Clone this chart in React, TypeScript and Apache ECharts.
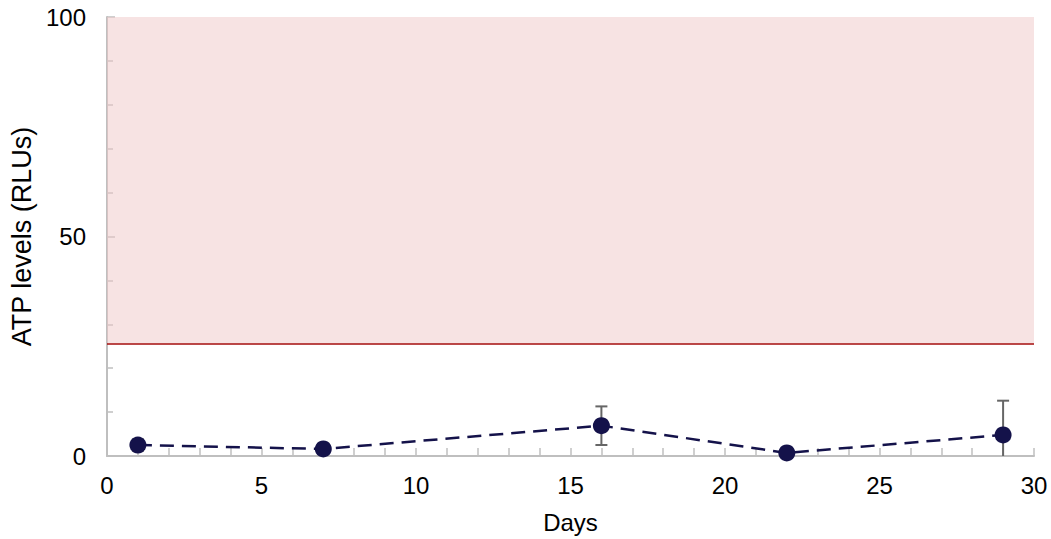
import React, { useEffect, useRef } from "react";
import * as echarts from "echarts";

const days = [1, 7, 16, 22, 29];
const atpMeans = [2.5, 1.6, 6.9, 0.7, 4.8];
const atpErrors = [1.3, 0.5, 4.4, 1.0, 7.8];
const threshold = 25.6;
const yMax = 100;

export default function App() {
  const ref = useRef<HTMLDivElement>(null);
  useEffect(() => {
    if (!ref.current) return;
    const chart = echarts.init(ref.current, null, { renderer: "svg" });
    const pts = days.map((d, i) => [d, atpMeans[i]]);
    const errs = days.map((d, i) => [d, atpMeans[i] - atpErrors[i], atpMeans[i] + atpErrors[i]]);
    const font = "Arial";
    chart.setOption({
      animation: false,
      grid: { left: 107, right: 17, top: 17, bottom: 83, containLabel: false },
      xAxis: {
        type: "value",
        min: 0,
        max: 30,
        interval: 5,
        name: "Days",
        nameLocation: "middle",
        nameGap: 54,
        nameTextStyle: { fontSize: 24, color: "#000", fontFamily: font },
        axisLine: { lineStyle: { color: "#BFBFBF", width: 2 } },
        axisTick: { show: true, inside: true, length: 8, lineStyle: { color: "#BFBFBF", width: 1.5 } },
        minorTick: { show: true, splitNumber: 5, length: 8, lineStyle: { color: "#BFBFBF", width: 1.5 } },
        axisLabel: { fontSize: 24, color: "#000", fontFamily: font, margin: 17 },
        splitLine: { show: false },
      },
      yAxis: {
        type: "value",
        min: 0,
        max: yMax,
        interval: 50,
        name: "ATP levels (RLUs)",
        nameLocation: "middle",
        nameGap: 70,
        nameTextStyle: { fontSize: 27, color: "#000", fontFamily: font },
        axisLine: { show: true, lineStyle: { color: "#BFBFBF", width: 2 } },
        axisTick: { show: true, inside: true, length: 8, lineStyle: { color: "#BFBFBF", width: 1.5 } },
        minorTick: { show: true, splitNumber: 5, length: 6, lineStyle: { color: "#BFBFBF", width: 1.5 } },
        axisLabel: { fontSize: 24, color: "#000", fontFamily: font, margin: 21 },
        splitLine: { show: false },
      },
      series: [
        {
          type: "line",
          data: pts,
          symbol: "circle",
          symbolSize: 17,
          itemStyle: { color: "#14124A" },
          lineStyle: { color: "#14124A", width: 2.5, type: [14, 8] },
          z: 5,
          markArea: {
            silent: true,
            itemStyle: { color: "rgba(240,200,200,0.5)" },
            data: [[{ yAxis: threshold }, { yAxis: yMax }]],
          },
          markLine: {
            silent: true,
            symbol: "none",
            label: { show: false },
            lineStyle: { color: "#A50B0B", width: 1.5, type: "solid" },
            data: [{ yAxis: threshold }],
          },
        },
        {
          type: "custom",
          data: errs,
          z: 4,
          clip: true,
          renderItem: (params: any, api: any) => {
            const x = api.value(0);
            const lo = Math.max(0, api.value(1));
            const hi = api.value(2);
            const pLo = api.coord([x, lo]);
            const pHi = api.coord([x, hi]);
            const w = 6;
            const style = { stroke: "#666666", lineWidth: 2 };
            const children: any[] = [
              { type: "line", shape: { x1: pHi[0], y1: pHi[1], x2: pLo[0], y2: pLo[1] }, style },
              { type: "line", shape: { x1: pHi[0] - w, y1: pHi[1], x2: pHi[0] + w, y2: pHi[1] }, style },
            ];
            if (api.value(1) > 0) {
              children.push({ type: "line", shape: { x1: pLo[0] - w, y1: pLo[1], x2: pLo[0] + w, y2: pLo[1] }, style });
            }
            return { type: "group", children };
          },
        },
      ],
    });
    return () => chart.dispose();
  }, []);
  return <div ref={ref} style={{ width: 1051, height: 539, position: "absolute", left: 0, top: 0 }} />;
}
